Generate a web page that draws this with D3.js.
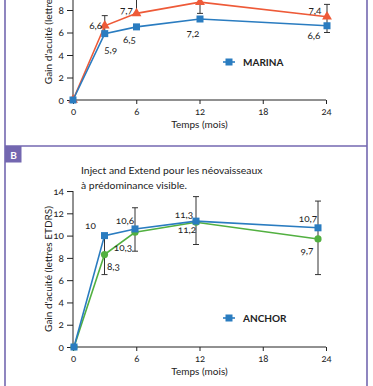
<!DOCTYPE html>
<html>
<head>
<meta charset="utf-8">
<script src="https://cdn.jsdelivr.net/npm/d3@7"></script>
<style>
  body { margin: 0; background: #fff; }
  svg text { font-family: Lato, "Noto Sans", sans-serif; font-variant-numeric: oldstyle-nums; fill: #222; }
</style>
</head>
<body>
<svg id="chart" width="373" height="386"></svg>
<script>
// data
const months = [0, 3, 6, 12, 24];
const xTicks = [0, 6, 12, 18, 24];
const yTicks = [0, 2, 4, 6, 8, 10, 12, 14];

// panel A (MARINA)
const marinaBlue = [0, 5.9, 6.5, 7.2, 6.6];
const marinaRed = [0, 6.6, 7.7, 8.7, 7.4];
const marinaBlueLabels = ['', '5,9', '6,5', '7,2', '6,6'];
const marinaRedLabels = ['', '6,6', '7,7', '', '7,4'];
const marinaErrLow = [null, 6.0, 7.7, 7.7, 6.0];
const marinaErrHigh = [null, 7.5, 9.9, 10.0, 8.5];

// panel B (ANCHOR)
const anchorBlue = [0, 10, 10.6, 11.3, 10.7];
const anchorGreen = [0, 8.3, 10.3, 11.2, 9.7];
const anchorBlueLabels = ['', '10', '10,6', '11,3', '10,7'];
const anchorGreenLabels = ['', '8,3', '10,3', '11,2', '9,7'];
const anchorErrLow = [null, 6.5, 8.6, 9.2, 6.5];
const anchorErrHigh = [null, 10, 12.5, 13.5, 13.1];

const titleLines = ['Inject and Extend pour les néovaisseaux', 'à prédominance visible.'];
const xTitle = 'Temps (mois)';
const yTitle = "Gain d'acuité (lettres ETDRS)";

const BLUE = '#2a7cc0', RED = '#ee5a38', GREEN = '#52b040', PURPLE = '#7367b0';

const svg = d3.select('#chart');

function drawPanel(opts) {
  const g = svg.append('g');
  const x = d3.scaleLinear().domain([0, 24]).range([73, 326]);
  const xd = d3.scaleLinear().domain([0, 24]).range(opts.dataRange);
  const y = d3.scaleLinear().domain([0, 14]).range([opts.y0, opts.y0 - 14 * opts.unit]);

  // axes
  g.append('g')
    .attr('transform', `translate(0,${opts.y0})`)
    .call(d3.axisBottom(x).tickValues(xTicks).tickSize(4).tickPadding(4).tickFormat(d => d))
    .call(a => a.select('.domain').attr('d', `M73,0H326`).attr('stroke', '#222'))
    .call(a => a.selectAll('.tick line').attr('stroke', '#222'))
    .call(a => a.selectAll('.tick text').attr('font-size', 9.5).attr('fill', '#222'));

  // only ticks that fall inside the picture
  g.append('g')
    .attr('transform', 'translate(73,0)')
    .call(d3.axisLeft(y).tickValues(yTicks.filter(t => y(t) > 4)).tickSize(6).tickPadding(3))
    .call(a => a.select('.domain').attr('d', `M0,${opts.y0}V${y(14)}`).attr('stroke', '#222'))
    .call(a => a.selectAll('.tick line').attr('stroke', '#222'))
    .call(a => a.selectAll('.tick text').attr('font-size', 10).attr('fill', '#222'));

  g.append('text')
    .attr('x', x(12)).attr('y', opts.y0 + 28)
    .attr('text-anchor', 'middle').attr('font-size', 10)
    .text(xTitle);

  g.append('text')
    .attr('transform', `translate(48,${(opts.y0 + y(14)) / 2}) rotate(-90)`)
    .attr('text-anchor', 'middle').attr('dominant-baseline', 'central')
    .attr('font-size', 10)
    .text(yTitle);

  // error bars
  const err = months.map((m, i) => ({ m, lo: opts.errLow[i], hi: opts.errHigh[i] }))
    .filter(d => d.lo != null);
  const eb = g.append('g').attr('stroke', '#333').attr('stroke-width', 1);
  err.forEach(d => {
    const cx = xd(d.m);
    eb.append('line').attr('x1', cx).attr('x2', cx).attr('y1', y(d.lo)).attr('y2', y(d.hi));
    eb.append('line').attr('x1', cx - 3).attr('x2', cx + 3).attr('y1', y(d.lo)).attr('y2', y(d.lo));
    eb.append('line').attr('x1', cx - 3).attr('x2', cx + 3).attr('y1', y(d.hi)).attr('y2', y(d.hi));
  });

  const line = d3.line().x((d, i) => xd(months[i])).y(d => y(d));

  opts.series.forEach(s => {
    g.append('path').datum(s.values)
      .attr('fill', 'none').attr('stroke', s.color).attr('stroke-width', 1.6)
      .attr('d', line);
    const pts = g.append('g');
    s.values.forEach((v, i) => {
      const cx = xd(months[i]), cy = y(v);
      if (s.shape === 'square') {
        pts.append('rect').attr('x', cx - 3.5).attr('y', cy - 3.5).attr('width', 7).attr('height', 7).attr('fill', s.color);
      } else if (s.shape === 'triangle') {
        pts.append('path').attr('d', d3.symbol(d3.symbolTriangle, 42)()).attr('transform', `translate(${cx},${cy})`).attr('fill', s.color);
      } else {
        pts.append('circle').attr('cx', cx).attr('cy', cy).attr('r', 3.6).attr('fill', s.color);
      }
      if (s.labels[i]) {
        const off = s.offsets[i];
        g.append('text')
          .attr('x', cx + off[0]).attr('y', cy + off[1])
          .attr('text-anchor', 'middle').attr('dominant-baseline', 'central')
          .attr('font-size', 10)
          .text(s.labels[i]);
      }
    });
  });

  // legend
  const lg = g.append('g').attr('transform', `translate(0,${opts.legendY})`);
  lg.append('line').attr('x1', 223).attr('x2', 235).attr('stroke', BLUE).attr('stroke-width', 1.6);
  lg.append('rect').attr('x', 225.5).attr('y', -3.5).attr('width', 7).attr('height', 7).attr('fill', BLUE);
  lg.append('text').attr('x', 243).attr('dominant-baseline', 'central')
    .attr('font-size', 10).attr('font-weight', 'bold').text(opts.legend);
}

// panel A
drawPanel({
  y0: 100, unit: 11.25, dataRange: [73, 327], legendY: 62, legend: 'MARINA',
  errLow: marinaErrLow, errHigh: marinaErrHigh,
  series: [
    { values: marinaRed, color: RED, shape: 'triangle', labels: marinaRedLabels,
      offsets: [null, [-9, -1], [-10, -3], [0, -12], [-12, -7]] },
    { values: marinaBlue, color: BLUE, shape: 'square', labels: marinaBlueLabels,
      offsets: [null, [6, 15], [-7, 12], [-7, 14], [-13, 9]] }
  ]
});

// panel B
drawPanel({
  y0: 347, unit: 11.14, dataRange: [74, 318], legendY: 318, legend: 'ANCHOR',
  errLow: anchorErrLow, errHigh: anchorErrHigh,
  series: [
    { values: anchorGreen, color: GREEN, shape: 'circle', labels: anchorGreenLabels,
      offsets: [null, [9, 11], [-12, 15], [-9, 7], [-11, 11]] },
    { values: anchorBlue, color: BLUE, shape: 'square', labels: anchorBlueLabels,
      offsets: [null, [-14, -11], [-10, -9], [-12, -7], [-10, -10]] }
  ]
});

// title B
svg.append('text').attr('x', 81).attr('y', 170).attr('dominant-baseline', 'central')
  .attr('font-size', 10.4).text(titleLines[0]);
svg.append('text').attr('x', 81).attr('y', 185).attr('dominant-baseline', 'central')
  .attr('font-size', 10.4).text(titleLines[1]);

// frame
svg.append('line').attr('x1', 5).attr('x2', 5).attr('y1', 0).attr('y2', 386).attr('stroke', PURPLE).attr('stroke-width', 1.6);
svg.append('line').attr('x1', 367).attr('x2', 367).attr('y1', 0).attr('y2', 386).attr('stroke', PURPLE).attr('stroke-width', 1.6);
svg.append('line').attr('x1', 5).attr('x2', 367).attr('y1', 146).attr('y2', 146).attr('stroke', PURPLE).attr('stroke-width', 1.6);
svg.append('rect').attr('x', 5).attr('y', 146).attr('width', 16.5).attr('height', 16.5).attr('fill', PURPLE);
svg.append('text').attr('x', 13.5).attr('y', 154.5).attr('text-anchor', 'middle').attr('dominant-baseline', 'central')
  .attr('font-size', 10).attr('font-weight', 'bold').style('fill', '#fff').text('B');
</script>
</body>
</html>
